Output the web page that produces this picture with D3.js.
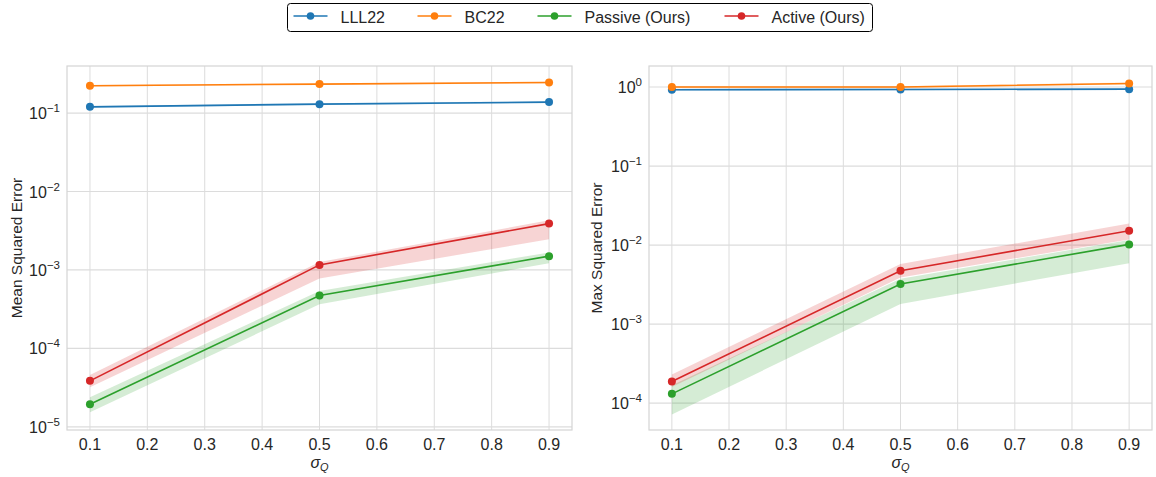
<!DOCTYPE html>
<html>
<head>
<meta charset="utf-8">
<script src="https://cdn.jsdelivr.net/npm/d3@7"></script>
<style>
  body { margin: 0; background: #fff; }
  svg text { font-family: "Liberation Sans", Arial, sans-serif; fill: #262626; }
</style>
</head>
<body>
<div class="chart"></div>
<script>
const sigmas = [0.1, 0.5, 0.9]
const xTicks = [0.1, 0.2, 0.3, 0.4, 0.5, 0.6, 0.7, 0.8, 0.9]
const seriesNames = ["LLL22", "BC22", "Passive (Ours)", "Active (Ours)"]
const seriesColors = ["#1f77b4", "#ff7f0e", "#2ca02c", "#d62728"]

// mean squared error (left panel)
const mseLLL = [0.120, 0.130, 0.138]
const mseLLLLow = [0.117, 0.127, 0.134]
const mseLLLHigh = [0.123, 0.133, 0.142]
const mseBC = [0.223, 0.234, 0.245]
const mseBCLow = [0.218, 0.229, 0.239]
const mseBCHigh = [0.228, 0.239, 0.251]
const msePassive = [1.94e-5, 4.72e-4, 1.50e-3]
const msePassiveLow = [1.53e-5, 3.66e-4, 1.22e-3]
const msePassiveHigh = [2.38e-5, 5.40e-4, 1.67e-3]
const mseActive = [3.86e-5, 1.16e-3, 3.90e-3]
const mseActiveLow = [3.20e-5, 7.80e-4, 2.46e-3]
const mseActiveHigh = [4.57e-5, 1.26e-3, 4.30e-3]

// max squared error (right panel)
const maxLLL = [0.925, 0.93, 0.94]
const maxLLLLow = [0.90, 0.905, 0.915]
const maxLLLHigh = [0.95, 0.955, 0.965]
const maxBC = [1.0, 1.0, 1.11]
const maxBCLow = [0.975, 0.975, 1.08]
const maxBCHigh = [1.025, 1.025, 1.14]
const maxPassive = [1.31e-4, 3.22e-3, 1.02e-2]
const maxPassiveLow = [7.2e-5, 1.80e-3, 5.9e-3]
const maxPassiveHigh = [1.68e-4, 3.76e-3, 1.16e-2]
const maxActive = [1.88e-4, 4.74e-3, 1.52e-2]
const maxActiveLow = [1.60e-4, 3.90e-3, 1.18e-2]
const maxActiveHigh = [2.31e-4, 5.77e-3, 1.88e-2]

const mseTicks = [1e-5, 1e-4, 1e-3, 1e-2, 1e-1]
const maxTicks = [1e-4, 1e-3, 1e-2, 1e-1, 1e0]

const width = 1156
const height = 477

const panels = [
  {
    left: 67, right: 572, top: 66, bottom: 430,
    yDomain: [Math.pow(10, -5.04), Math.pow(10, -0.40)],
    yTicks: mseTicks,
    yLabel: "Mean Squared Error", yLabelX: 16.5,
    series: [
      [mseLLL, mseLLLLow, mseLLLHigh],
      [mseBC, mseBCLow, mseBCHigh],
      [msePassive, msePassiveLow, msePassiveHigh],
      [mseActive, mseActiveLow, mseActiveHigh]
    ]
  },
  {
    left: 649, right: 1152, top: 66, bottom: 430,
    yDomain: [Math.pow(10, -4.34), Math.pow(10, 0.266)],
    yTicks: maxTicks,
    yLabel: "Max Squared Error", yLabelX: 597,
    series: [
      [maxLLL, maxLLLLow, maxLLLHigh],
      [maxBC, maxBCLow, maxBCHigh],
      [maxPassive, maxPassiveLow, maxPassiveHigh],
      [maxActive, maxActiveLow, maxActiveHigh]
    ]
  }
]

const svg = d3.select(".chart").append("svg")
    .attr("width", width)
    .attr("height", height)

const gridColor = "#dcdcdc"

panels.forEach(p => {
  const xScale = d3.scaleLinear()
    .domain([0.06, 0.94])
    .range([p.left, p.right])
  const yScale = d3.scaleLog()
    .domain(p.yDomain)
    .range([p.bottom, p.top])

  const g = svg.append("g")

  // grid
  g.selectAll(".vgrid")
    .data(xTicks)
    .join("line")
      .attr("x1", d => xScale(d)).attr("x2", d => xScale(d))
      .attr("y1", p.top).attr("y2", p.bottom)
      .attr("stroke", gridColor).attr("stroke-width", 1)
  g.selectAll(".hgrid")
    .data(p.yTicks)
    .join("line")
      .attr("x1", p.left).attr("x2", p.right)
      .attr("y1", d => yScale(d)).attr("y2", d => yScale(d))
      .attr("stroke", gridColor).attr("stroke-width", 1.2)

  // frame
  g.append("rect")
      .attr("x", p.left).attr("y", p.top)
      .attr("width", p.right - p.left).attr("height", p.bottom - p.top)
      .attr("fill", "none").attr("stroke", "#d4d4d4").attr("stroke-width", 1.2)

  // x tick labels
  g.selectAll(".xtick")
    .data(xTicks)
    .join("text")
      .attr("x", d => xScale(d))
      .attr("y", p.bottom + 20)
      .attr("text-anchor", "middle")
      .attr("font-size", 16)
      .text(d => d.toFixed(1))

  // y tick labels as 10^k
  const yt = g.selectAll(".ytick")
    .data(p.yTicks)
    .join("text")
      .attr("x", p.left - 7)
      .attr("y", d => yScale(d) + 6)
      .attr("text-anchor", "end")
      .attr("font-size", 16)
  yt.append("tspan").text("10")
  yt.append("tspan")
      .attr("dy", -7)
      .attr("font-size", 11.5)
      .text(d => {
        const e = Math.round(Math.log10(d))
        return e < 0 ? "\u2212" + (-e) : String(e)
      })

  // axis labels
  g.append("text")
      .attr("transform", `translate(${p.yLabelX}, ${(p.top + p.bottom) / 2}) rotate(-90)`)
      .attr("text-anchor", "middle")
      .attr("dy", "0.35em")
      .attr("font-size", 15.5)
      .text(p.yLabel)

  const xl = g.append("text")
      .attr("x", (p.left + p.right) / 2)
      .attr("y", 468)
      .attr("text-anchor", "middle")
      .attr("font-size", 16)
  xl.append("tspan").attr("font-style", "italic").text("\u03c3")
  xl.append("tspan").attr("font-style", "italic").attr("font-size", 11).attr("dy", 3).text("Q")

  const area = d3.area()
    .x((d, i) => xScale(sigmas[i]))
    .y0(d => yScale(d[0]))
    .y1(d => yScale(d[1]))
  const line = d3.line()
    .x((d, i) => xScale(sigmas[i]))
    .y(d => yScale(d))

  p.series.forEach(([mid, lo, hi], k) => {
    const color = seriesColors[k]
    g.append("path")
        .attr("d", area(lo.map((v, i) => [v, hi[i]])))
        .attr("fill", color)
        .attr("fill-opacity", 0.2)
    g.append("path")
        .attr("d", line(mid))
        .attr("fill", "none")
        .attr("stroke", color)
        .attr("stroke-width", 1.6)
    g.selectAll(null)
      .data(mid)
      .join("circle")
        .attr("cx", (d, i) => xScale(sigmas[i]))
        .attr("cy", d => yScale(d))
        .attr("r", 4)
        .attr("fill", color)
  })
})

// legend
const legend = svg.append("g")
legend.append("rect")
    .attr("x", 287.5).attr("y", 3.5)
    .attr("width", 585).attr("height", 28)
    .attr("rx", 3)
    .attr("fill", "#fff")
    .attr("stroke", "#000")
    .attr("stroke-width", 1)

const legendX = [293.5, 417.5, 537.5, 724.5]
seriesNames.forEach((name, k) => {
  const x0 = legendX[k]
  const color = seriesColors[k]
  legend.append("line")
      .attr("x1", x0).attr("x2", x0 + 34)
      .attr("y1", 16).attr("y2", 16)
      .attr("stroke", color).attr("stroke-width", 1.6)
  legend.append("circle")
      .attr("cx", x0 + 17).attr("cy", 16).attr("r", 3.8)
      .attr("fill", color)
  legend.append("text")
      .attr("x", x0 + 47)
      .attr("y", 22.5)
      .attr("font-size", 16)
      .text(name)
})
</script>
</body>
</html>
